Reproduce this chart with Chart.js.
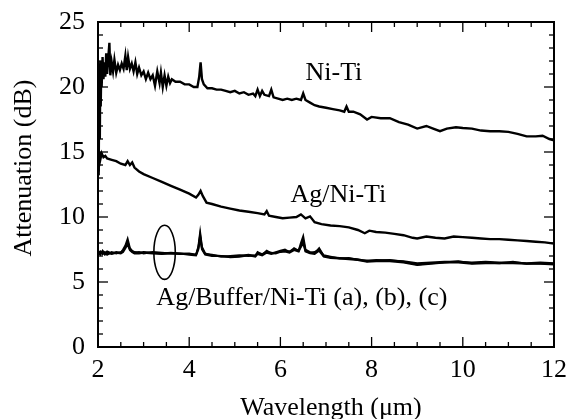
<!DOCTYPE html>
<html><head><meta charset="utf-8">
<script src="https://cdn.jsdelivr.net/npm/chart.js@4.4.1/dist/chart.umd.min.js"></script>
<style>html,body{margin:0;padding:0;background:#fff}</style>
</head><body>
<canvas id="c" width="568" height="419"></canvas>
<script>
// ---------- data ----------
const xTicks = [2, 4, 6, 8, 10, 12];
const yTicks = [0, 5, 10, 15, 20, 25];

const xNiTi = [
  2.00,2.01,2.02,2.03,2.04,2.05,2.06,2.07,2.08,2.10,
  2.12,2.14,2.16,2.18,2.20,2.22,2.25,2.27,2.30,2.33,
  2.36,2.40,2.44,2.48,2.52,2.56,2.60,2.63,2.66,2.70,
  2.74,2.78,2.82,2.86,2.90,2.95,3.00,3.05,3.10,3.15,
  3.20,3.25,3.30,3.35,3.38,3.42,3.46,3.50,3.54,3.58,
  3.62,3.70,3.80,3.90,4.00,4.10,4.18,4.22,4.25,4.28,
  4.32,4.40,4.50,4.60,4.70,4.80,4.90,5.00,5.10,5.20,
  5.30,5.40,5.45,5.50,5.55,5.60,5.65,5.75,5.80,5.85,
  5.95,6.05,6.15,6.25,6.35,6.45,6.50,6.55,6.65,6.75,
  6.85,7.00,7.15,7.30,7.40,7.45,7.50,7.60,7.75,7.90,
  8.00,8.20,8.40,8.60,8.80,9.00,9.20,9.35,9.50,9.65,
  9.85,10.00,10.20,10.40,10.60,10.80,11.00,11.20,11.40,11.60,
  11.75,11.90,12.00
];
const yNiTi = [
  14.5,21.0,13.5,21.8,16.0,22.0,18.5,21.2,20.0,22.3,
  20.6,21.9,20.8,22.6,21.0,22.0,23.4,20.9,21.9,21.2,
  22.1,21.1,21.7,21.3,21.8,21.4,22.4,21.3,22.3,21.4,
  21.8,21.2,21.9,21.0,21.5,20.9,21.2,20.6,21.1,20.6,
  20.9,20.1,21.2,20.3,21.1,20.0,20.9,20.1,20.8,20.3,
  20.6,20.4,20.4,20.2,20.2,20.0,20.0,20.8,21.9,20.6,
  20.2,19.9,19.9,19.8,19.8,19.7,19.6,19.7,19.5,19.6,
  19.4,19.5,19.3,19.8,19.3,19.7,19.4,19.3,19.8,19.2,
  19.1,19.0,19.1,19.0,19.1,19.0,19.5,19.0,18.8,18.6,
  18.5,18.4,18.3,18.2,18.1,18.5,18.1,18.1,17.9,17.5,
  17.7,17.6,17.6,17.3,17.1,16.8,17.0,16.8,16.6,16.8,
  16.9,16.85,16.8,16.65,16.6,16.6,16.55,16.4,16.2,16.2,
  16.25,16.0,15.9
];

const xAgNiTi = [
  2.00,2.01,2.02,2.03,2.05,2.08,2.12,2.16,2.20,2.30,
  2.40,2.50,2.60,2.65,2.70,2.75,2.80,2.90,3.00,3.20,
  3.40,3.60,3.80,4.00,4.15,4.20,4.25,4.30,4.38,4.50,
  4.70,4.90,5.10,5.30,5.50,5.65,5.70,5.75,5.90,6.05,
  6.20,6.35,6.45,6.55,6.65,6.75,6.90,7.10,7.30,7.50,
  7.70,7.85,7.95,8.10,8.30,8.50,8.70,8.90,9.00,9.20,
  9.40,9.60,9.80,10.00,10.20,10.40,10.60,10.80,11.00,11.20,
  11.40,11.60,11.80,12.00
];
const yAgNiTi = [
  14.8,13.2,14.2,15.0,14.4,14.9,14.6,14.7,14.5,14.4,
  14.3,14.1,14.0,14.3,14.0,14.2,13.8,13.5,13.3,13.0,
  12.7,12.4,12.1,11.8,11.5,11.7,12.0,11.6,11.1,11.0,
  10.8,10.65,10.5,10.4,10.3,10.2,10.45,10.1,10.0,9.9,
  9.95,10.0,10.2,9.9,10.05,9.6,9.45,9.35,9.3,9.2,
  9.0,8.75,8.95,8.85,8.8,8.7,8.6,8.4,8.35,8.5,
  8.4,8.35,8.5,8.45,8.4,8.35,8.3,8.3,8.25,8.2,
  8.15,8.1,8.05,7.95
];

const xBuffer = [
  2.00,2.05,2.10,2.15,2.20,2.30,2.40,2.50,2.55,2.60,
  2.65,2.70,2.75,2.80,2.90,3.00,3.20,3.40,3.60,3.80,
  4.00,4.15,4.20,4.24,4.28,4.35,4.50,4.70,4.90,5.10,
  5.30,5.45,5.50,5.60,5.70,5.80,5.90,6.00,6.10,6.20,
  6.30,6.40,6.45,6.50,6.55,6.65,6.75,6.85,6.95,7.10,
  7.30,7.50,7.70,7.90,8.10,8.40,8.70,9.00,9.30,9.60,
  9.90,10.20,10.50,10.80,11.10,11.40,11.70,12.00
];
const yBufferA = [
  7.3,7.1,7.4,7.2,7.35,7.2,7.3,7.25,7.5,7.8,
  8.3,7.6,7.4,7.3,7.25,7.3,7.25,7.2,7.25,7.2,
  7.15,7.1,7.7,8.8,7.7,7.2,7.05,7.0,6.95,7.0,
  7.1,7.0,7.3,7.1,7.4,7.2,7.3,7.4,7.5,7.3,
  7.6,7.4,8.0,8.5,7.5,7.3,7.2,7.6,7.0,6.9,
  6.85,6.8,6.75,6.6,6.7,6.65,6.6,6.45,6.5,6.55,
  6.55,6.5,6.55,6.5,6.5,6.45,6.5,6.45
];
const yBufferB = [
  7.2,7.35,7.15,7.3,7.1,7.3,7.2,7.3,7.4,7.7,
  8.1,7.5,7.35,7.25,7.3,7.2,7.3,7.25,7.2,7.15,
  7.2,7.1,7.6,8.6,7.6,7.15,7.1,6.95,7.0,7.05,
  7.0,7.05,7.2,7.15,7.3,7.25,7.2,7.35,7.4,7.35,
  7.5,7.45,7.8,8.2,7.4,7.25,7.3,7.5,7.05,6.95,
  6.8,6.85,6.7,6.65,6.65,6.7,6.55,6.35,6.45,6.5,
  6.6,6.45,6.5,6.45,6.55,6.4,6.45,6.4
];
const yBufferC = [
  7.25,7.2,7.3,7.1,7.25,7.15,7.25,7.2,7.3,7.6,
  7.9,7.45,7.3,7.2,7.2,7.25,7.2,7.15,7.2,7.2,
  7.1,7.05,7.5,8.4,7.5,7.1,7.0,7.0,6.9,6.95,
  7.05,6.95,7.15,7.05,7.25,7.15,7.25,7.3,7.35,7.25,
  7.45,7.35,7.7,8.0,7.35,7.2,7.15,7.4,6.95,6.85,
  6.8,6.75,6.7,6.55,6.6,6.6,6.5,6.3,6.4,6.5,
  6.5,6.4,6.45,6.45,6.45,6.4,6.4,6.35
];

const seriesLabels = ["Ni-Ti", "Ag/Ni-Ti", "Ag/Buffer/Ni-Ti (a), (b), (c)"];
const xTitle = "Wavelength (\u03bcm)";
const yTitle = "Attenuation (dB)";

// ---------- layout / style ----------
const FONT = '"Liberation Serif", "Times New Roman", Times, serif';
const FS = 26;
const textNotes = [
  { text: seriesLabels[0], x: 6.55, y: 20.55 },
  { text: seriesLabels[1], x: 6.22, y: 11.18 },
  { text: seriesLabels[2], x: 3.28, y: 3.23 }
];
const ring = { cx: 3.46, cy: 7.28, rx: 0.235, ry: 2.08 };

const pts = (xs, ys) => xs.map((v, i) => ({ x: v, y: ys[i] }));

const decor = {
  id: 'decor',
  afterDraw(chart) {
    const { ctx, chartArea: a, scales: { x, y } } = chart;
    ctx.save();
    ctx.strokeStyle = '#000';
    ctx.lineWidth = 1.3;
    const seg = (x1, y1, x2, y2) => { ctx.beginPath(); ctx.moveTo(x1, y1); ctx.lineTo(x2, y2); ctx.stroke(); };
    for (let k = 0; k <= 20; k++) {
      const v = x.min + k * 0.5;
      const px = x.getPixelForValue(v);
      const L = (k % 4 === 0) ? 10 : 5;
      seg(px, a.bottom, px, a.bottom - L);
      seg(px, a.top, px, a.top + L);
    }
    for (let k = 0; k <= 25; k++) {
      const py = y.getPixelForValue(k);
      const L = (k % 5 === 0) ? 10 : 5;
      seg(a.left, py, a.left + L, py);
      seg(a.right, py, a.right - L, py);
    }
    ctx.lineWidth = 2;
    ctx.strokeRect(a.left, a.top, a.right - a.left, a.bottom - a.top);

    ctx.fillStyle = '#000';
    ctx.font = FS + 'px ' + FONT;
    ctx.textAlign = 'left';
    ctx.textBaseline = 'alphabetic';
    textNotes.forEach(t => ctx.fillText(t.text, x.getPixelForValue(t.x), y.getPixelForValue(t.y)));

    const cx = x.getPixelForValue(ring.cx), cy = y.getPixelForValue(ring.cy);
    const rx = Math.abs(x.getPixelForValue(ring.cx + ring.rx) - cx);
    const ry = Math.abs(y.getPixelForValue(ring.cy + ring.ry) - cy);
    ctx.lineWidth = 1.6;
    ctx.beginPath(); ctx.ellipse(cx, cy, rx, ry, 0, 0, Math.PI * 2); ctx.stroke();

    ctx.textAlign = 'center';
    ctx.fillText(xTitle, 331, 415);
    ctx.translate(31, 168);
    ctx.rotate(-Math.PI / 2);
    ctx.fillText(yTitle, 0, 0);
    ctx.restore();
  }
};

const lineDs = (label, data, w) => ({
  label, data, borderColor: '#000', backgroundColor: '#000',
  borderWidth: w, pointRadius: 0, tension: 0, fill: false
});

const zeroPad = s => { s.paddingLeft = 0; s.paddingRight = 0; s.paddingTop = 0; s.paddingBottom = 0; };

new Chart(document.getElementById('c'), {
  type: 'line',
  data: {
    datasets: [
      lineDs(seriesLabels[0], pts(xNiTi, yNiTi), 2.4),
      lineDs(seriesLabels[1], pts(xAgNiTi, yAgNiTi), 2.4),
      lineDs('(a)', pts(xBuffer, yBufferA), 2),
      lineDs('(b)', pts(xBuffer, yBufferB), 2),
      lineDs('(c)', pts(xBuffer, yBufferC), 2)
    ]
  },
  options: {
    responsive: false,
    animation: false,
    devicePixelRatio: 1,
    layout: { padding: { left: 0, top: 22, right: 14, bottom: 0 } },
    plugins: { legend: { display: false }, tooltip: { enabled: false } },
    scales: {
      x: {
        type: 'linear', min: 2, max: 12,
        afterBuildTicks: s => { s.ticks = xTicks.map(v => ({ value: v })); },
        ticks: { color: '#000', font: { family: FONT, size: FS }, padding: 8, maxRotation: 0 },
        grid: { display: false, drawTicks: false },
        border: { display: false },
        afterFit: s => { s.height = 72; zeroPad(s); }
      },
      y: {
        type: 'linear', min: 0, max: 25,
        afterBuildTicks: s => { s.ticks = yTicks.map(v => ({ value: v })); },
        ticks: { color: '#000', font: { family: FONT, size: FS }, padding: 13 },
        grid: { display: false, drawTicks: false },
        border: { display: false },
        afterFit: s => { s.width = 98; zeroPad(s); }
      }
    }
  },
  plugins: [decor]
});
</script>
</body></html>
